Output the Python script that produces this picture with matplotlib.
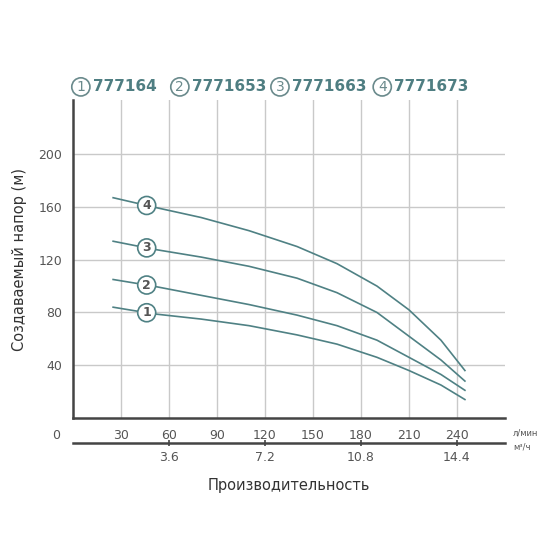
import matplotlib.pyplot as plt
import numpy as np

# flow, l/min
flow = [25, 50, 80, 110, 140, 165, 190, 210, 230, 245]
head_1 = [84, 79, 75, 70, 63, 56, 46, 36, 25, 14]
head_2 = [105, 100, 93, 86, 78, 70, 59, 46, 33, 21]
head_3 = [134, 128, 122, 115, 106, 95, 80, 62, 44, 28]
head_4 = [167, 160, 152, 142, 130, 117, 100, 82, 59, 36]
models = ['777164', '7771653', '7771663', '7771673']
x_ticks = [30, 60, 90, 120, 150, 180, 210, 240]
y_ticks = [40, 80, 120, 160, 200]
m3_ticks = [3.6, 7.2, 10.8, 14.4]

curve_col = '#4f8184'
text_col = '#555555'
grid_col = '#c9c9c9'

fig = plt.figure(figsize=(5.5, 5.5), dpi=100)
ax = fig.add_axes([0.133, 0.24, 0.785, 0.578])
ax.set_xlim(0, 270)
ax.set_ylim(0, 241)
for s in ['top', 'right']:
    ax.spines[s].set_visible(False)
for s in ['left', 'bottom']:
    ax.spines[s].set_linewidth(1.8)
    ax.spines[s].set_color('#444444')
ax.set_xticks(x_ticks)
ax.set_yticks(y_ticks)
ax.tick_params(length=0, labelcolor=text_col, labelsize=9, pad=8)
ax.grid(True, color=grid_col, linewidth=1)
ax.text(-8, -8, '0', ha='right', va='top', color=text_col, fontsize=9)
ax.text(275, -8, 'л/мин', ha='left', va='top', color=text_col, fontsize=6)
ax.set_ylabel('Создаваемый напор (м)', color='#333333', fontsize=10.5, labelpad=8)

heads = [head_1, head_2, head_3, head_4]
for i, h in enumerate(heads):
    ax.plot(flow, h, color=curve_col, linewidth=1.2)
    yl = np.interp(46, flow, h)
    ax.text(46, yl, str(i + 1), ha='center', va='center', color=text_col, fontsize=9,
            fontweight='bold',
            bbox=dict(boxstyle='circle,pad=0.2', fc='white', ec=curve_col, lw=1.2))

# second scale, m3/h
ax2 = fig.add_axes([0.133, 0.195, 0.785, 0.0001])
ax2.set_xlim(0, 270)
ax2.set_yticks([])
for s in ['top', 'right', 'left']:
    ax2.spines[s].set_visible(False)
ax2.spines['bottom'].set_linewidth(1.8)
ax2.spines['bottom'].set_color('#444444')
ax2.set_xticks([v * 1000 / 60 for v in m3_ticks])
ax2.set_xticklabels([str(v) for v in m3_ticks])
ax2.tick_params(direction='inout', length=5, width=1.2, color='#444444', labelcolor=text_col,
                labelsize=9)
ax2.text(275, -0.5, 'м³/ч', transform=ax2.get_xaxis_transform(), ha='left', va='top',
         color=text_col, fontsize=6)
ax2.set_xlabel('Производительность', color='#333333', fontsize=10.5, labelpad=10)

# model legend on top
for i, (m, xp) in enumerate(zip(models, [0.147, 0.327, 0.509, 0.695])):
    fig.text(xp, 0.842, str(i + 1), ha='center', va='center', color='#6a8a8c', fontsize=10,
             bbox=dict(boxstyle='circle,pad=0.15', fc='white', ec='#6a8a8c', lw=1.2))
    fig.text(xp + 0.022, 0.842, m, ha='left', va='center', color='#4f7e82', fontsize=11,
             fontweight='bold')

fig.savefig('out.png')
